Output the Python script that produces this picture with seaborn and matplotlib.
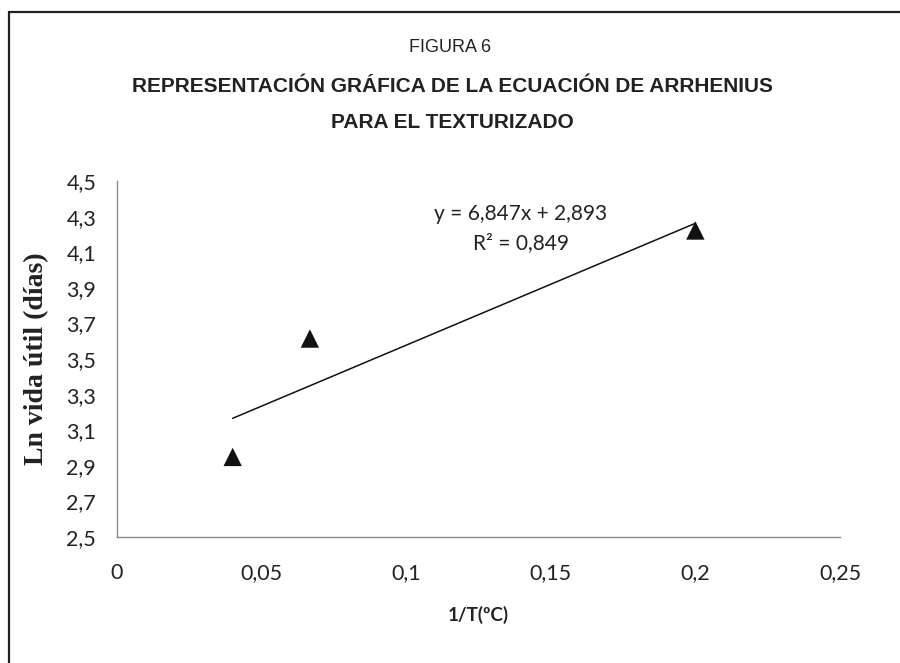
import matplotlib
matplotlib.use("Agg")
import matplotlib.pyplot as plt
from matplotlib.ticker import FuncFormatter, FixedLocator
from matplotlib.patches import Rectangle
import seaborn as sns
import pandas as pd

# Inverse temperature and log shelf life for the textured product
inv_temp = [0.04, 0.0667, 0.2]
ln_shelf_life = [2.95, 3.615, 4.222]

# Linear fit reported on the chart
slope = 6.847
intercept = 2.893
r_squared = 0.849
fit_x = [0.04, 0.2]

x_ticks = [0, 0.05, 0.1, 0.15, 0.2, 0.25]
y_ticks = [2.5, 2.7, 2.9, 3.1, 3.3, 3.5, 3.7, 3.9, 4.1, 4.3, 4.5]

sns.set_style("white")
plt.rcParams["font.family"] = ["Lato", "DejaVu Sans"]

df = pd.DataFrame({"x": inv_temp, "y": ln_shelf_life})

fig = plt.figure(figsize=(9, 6.63), dpi=100)
ax = fig.add_axes([0.13, 0.19, 0.8033, 0.537])

# outer frame around the whole figure
fig.patches.append(Rectangle((8.5 / 900, -0.05), 1.2, (663 - 11.5) / 663 + 0.05,
                             transform=fig.transFigure, fill=False,
                             edgecolor="#222222", linewidth=1.6))

fit_y = [slope * v + intercept for v in fit_x]
sns.lineplot(x=fit_x, y=fit_y, ax=ax, color="#111111", linewidth=1.1)
sns.scatterplot(data=df, x="x", y="y", ax=ax, marker="^", s=175,
                color="#111111", edgecolor="none", zorder=3)

ax.set_xlim(0, 0.25)
ax.set_ylim(2.5, 4.5)
ax.xaxis.set_major_locator(FixedLocator(x_ticks))
ax.yaxis.set_major_locator(FixedLocator(y_ticks))
ax.xaxis.set_major_formatter(FuncFormatter(lambda v, p: ("%g" % v).replace(".", ",")))
ax.yaxis.set_major_formatter(FuncFormatter(lambda v, p: ("%.1f" % v).replace(".", ",")))

for side in ["top", "right"]:
    ax.spines[side].set_visible(False)
for side in ["left", "bottom"]:
    ax.spines[side].set_color("#8a8a8a")
    ax.spines[side].set_linewidth(1.0)

ax.tick_params(axis="both", which="major", direction="out", length=5,
               width=1.0, color="#8a8a8a", labelsize=15.5, labelcolor="#222222")
ax.tick_params(axis="x", pad=14)
ax.tick_params(axis="y", pad=10)

ax.set_xlabel("1/T(ºC)", fontsize=13.5, fontweight="bold", color="#222222", labelpad=16)
ax.set_ylabel("Ln vida útil (días)", fontsize=20, fontweight="bold",
              family=["Liberation Serif"], color="#222222", labelpad=12)

ax.text(0.1397, 4.315, f"y = {slope:.3f}x + {intercept:.3f}".replace(".", ","),
        ha="center", va="center", fontsize=15, color="#222222")
ax.text(0.1397, 4.15, f"R² = {r_squared:.3f}".replace(".", ","),
        ha="center", va="center", fontsize=15, color="#222222")

fig.text(0.5, 1 - 48 / 663, "FIGURA 6", ha="center", va="center", fontsize=13,
         family=["Liberation Sans"], color="#222222")
fig.text(0.503, 1 - 87 / 663, "REPRESENTACIÓN GRÁFICA DE LA ECUACIÓN DE ARRHENIUS",
         ha="center", va="center", fontsize=15, fontweight="bold",
         family=["Liberation Sans"], color="#222222")
fig.text(0.503, 1 - 122 / 663, "PARA EL TEXTURIZADO", ha="center", va="center",
         fontsize=15, fontweight="bold", family=["Liberation Sans"], color="#222222")

fig.savefig("out.png", dpi=100)
